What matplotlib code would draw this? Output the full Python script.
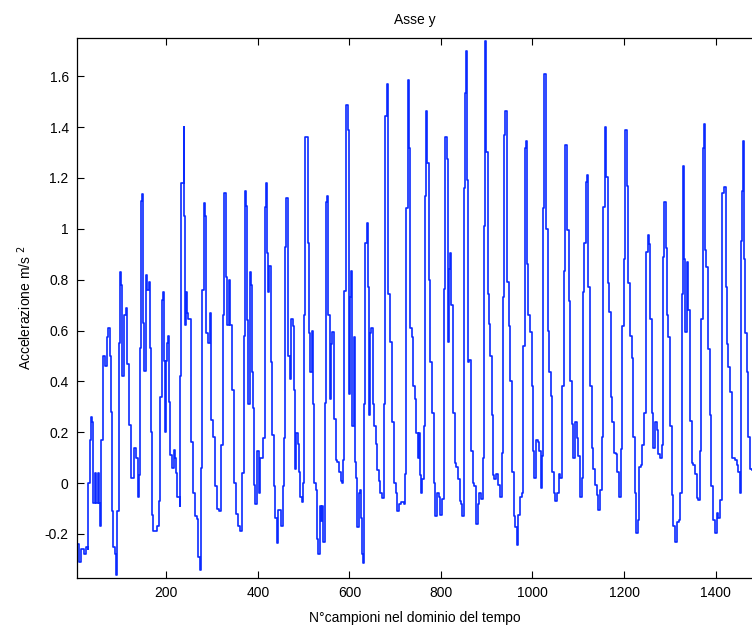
import matplotlib
matplotlib.use('Agg')
import matplotlib.pyplot as plt

# vertici (campione, accelerazione m/s^2)
campioni = [
  4, 10, 14, 20, 25, 29, 30, 33, 36, 38, 40, 44, 47, 51, 53, 55, 58, 62, 66, 71,
  73, 76, 79, 81, 84, 87, 91, 93, 96, 100, 102, 104, 108, 111, 114, 119, 122, 124, 129, 133,
  138, 140, 142, 144, 148, 149, 151, 155, 158, 162, 164, 167, 169, 172, 180, 184, 187, 191, 193, 195,
  198, 200, 202, 204, 206, 209, 212, 217, 220, 222, 224, 229, 231, 233, 238, 239, 241, 244, 246, 247,
  255, 258, 262, 267, 269, 273, 276, 279, 282, 285, 287, 291, 295, 298, 302, 307, 311, 316, 320, 324,
  327, 331, 333, 337, 340, 344, 349, 353, 356, 360, 365, 369, 371, 375, 377, 378, 382, 385, 388, 389,
  391, 393, 398, 402, 405, 411, 415, 417, 420, 422, 424, 428, 431, 435, 438, 441, 445, 451, 455,
  457, 459, 462, 465, 467, 470, 473, 476, 478, 482, 484, 487, 490, 493, 496, 499, 501, 504, 507, 509,
  512, 514, 518, 520, 523, 527, 529, 532, 535, 538, 540, 543, 546, 549, 552, 554, 558, 560, 563, 567,
  570, 574, 578, 581, 584, 587, 589, 593, 596, 599, 601, 604, 606, 609, 612, 614, 617, 620, 623, 625,
  628, 630, 633, 635, 638, 640, 643, 645, 648, 651, 654, 658, 661, 664, 667, 671, 675, 678, 682, 684,
  688, 693, 698, 701, 704, 708, 712, 715, 719, 722, 724, 728, 730, 733, 736, 739, 743, 746, 749, 751,
  754, 757, 759, 762, 765, 768, 770, 773, 777, 780, 785, 788, 792, 796, 799, 803, 806, 809, 813, 815,
  817, 820, 822, 826, 830, 833, 837, 841, 844, 847, 850, 852, 854, 857, 859, 862, 866, 870, 873, 877,
  880, 884, 888, 891, 894, 896, 899, 902, 904, 907, 911, 913, 917, 920, 924, 928,
  933, 935, 938, 941, 944, 948, 951, 955, 959, 962, 966, 969, 973, 977, 980, 983, 986, 988, 991, 995,
  999, 1001, 1004, 1007, 1011, 1015, 1018, 1021, 1024, 1026, 1029, 1033, 1036, 1040, 1043, 1046, 1050, 1053, 1057, 1060,
  1065, 1068, 1071, 1075, 1079, 1082, 1086, 1089, 1093, 1097, 1100, 1104, 1108, 1110, 1113, 1116, 1120, 1122, 1126, 1129,
  1133, 1137, 1140, 1144, 1148, 1151, 1155, 1159, 1161, 1164, 1167, 1171, 1174, 1178, 1182, 1185, 1189, 1193, 1196, 1200,
  1203, 1206, 1209, 1213, 1217, 1220, 1224, 1226, 1230, 1233, 1236, 1240, 1244, 1247, 1249, 1252, 1254, 1257, 1260, 1264,
  1268, 1271, 1275, 1279, 1282, 1286, 1288, 1291, 1293, 1297, 1300, 1304, 1308, 1311, 1315, 1319, 1322, 1326, 1327, 1329,
  1332, 1334, 1337, 1340, 1344, 1348, 1351, 1355, 1359, 1362, 1366, 1369, 1372, 1375, 1376, 1380, 1384, 1388, 1391, 1395,
  1399, 1402, 1406, 1409, 1413, 1415, 1419, 1422, 1425, 1428, 1431, 1435, 1439, 1442, 1446, 1449, 1453, 1456, 1458, 1460,
  1463, 1465, 1468, 1471, 1475, 1479]

acc = [
  -0.24, -0.31, -0.26, -0.28, -0.25, -0.26, 0.0, 0.17, 0.26, 0.24, -0.08, 0.04, -0.08, 0.04, -0.08, -0.17, 0.17, 0.50, 0.46, 0.575,
  0.61, 0.50, 0.28, -0.11, -0.25, -0.28, -0.36, -0.11, 0.55, 0.83, 0.78, 0.42, 0.66, 0.69, 0.47, 0.23, 0.08, 0.02, 0.14, 0.10,
  -0.055, 0.03, 0.53, 1.11, 1.135, 0.63, 0.44, 0.82, 0.76, 0.79, 0.53, 0.20, -0.125, -0.19, -0.17, -0.07, 0.34, 0.72, 0.75, 0.48,
  0.20, 0.48, 0.55, 0.58, 0.32, 0.11, 0.06, 0.13, 0.10, 0.04, -0.055, -0.09, 0.42, 1.18, 1.40, 1.05, 0.62, 0.75, 0.67, 0.645,
  0.16, -0.04, -0.13, -0.14, -0.29, -0.34, 0.06, 0.76, 1.10, 1.05, 0.59, 0.55, 0.67, 0.25, 0.18, -0.01, -0.10, -0.11, 0.15, 0.66,
  1.14, 0.81, 0.62, 0.80, 0.62, 0.365, 0.0, -0.12, -0.17, -0.19, 0.04, 0.58, 1.15, 1.09, 0.64, 0.31, 0.83, 0.78, 0.435, 0.295,
  -0.006, -0.083, 0.127, -0.04, 0.10, 0.176, 1.086, 1.18, 0.905, 0.75, 0.855, 0.477, 0.19, -0.013, -0.139, -0.237, -0.104, -0.167, -0.013,
  0.176, 0.93, 1.12, 1.12, 0.50, 0.41, 0.645, 0.617, 0.365, 0.057, 0.197, 0.155, 0.043, -0.055, -0.076, 0.0, 0.66, 1.36, 1.36, 0.946,
  0.59, 0.435, 0.60, 0.31, 0.0, -0.027, -0.22, -0.28, -0.09, -0.15, -0.09, -0.23, 0.316, 1.107, 1.128, 0.66, 0.33, 0.547, 0.596, 0.253,
  0.092, 0.085, 0.043, 0.008, 0.0, 0.092, 0.757, 1.485, 1.387, 0.35, 0.73, 0.834, 0.225, 0.575, 0.085, 0.022, -0.174, -0.04, -0.027, -0.139,
  -0.28, -0.314, 0.31, 0.946, 1.023, 0.77, 0.267, 0.59, 0.61, 0.31, 0.225, 0.155, 0.05, 0.008, -0.04, -0.06, 0.31, 1.443, 1.57, 0.743,
  0.555, 0.24, 0.0, -0.04, -0.11, -0.083, -0.076, -0.076, -0.083, 0.036, 1.08, 1.583, 1.317, 0.61, 0.575, 0.38, 0.33, 0.197, 0.10, 0.197,
  0.03, -0.04, 0.015, 0.225, 1.128, 1.464, 1.26, 0.80, 0.477, 0.274, 0.0, -0.13, -0.04, -0.055, -0.125, -0.062, 0.764, 1.36, 1.275, 0.555,
  0.84, 0.905, 0.70, 0.274, 0.078, 0.064, 0.015, -0.07, -0.083, -0.13, 1.16, 1.534, 1.70, 1.19, 0.477, 0.484, 0.127, 0.0, -0.013, -0.16,
  -0.083, -0.04, -0.062, 0.10, 1.01, 1.74, 1.30, 0.743, 0.625, 0.50, 0.267, 0.03, 0.015, 0.036, -0.006, -0.055,
  0.12, 0.73, 1.37, 1.464, 0.79, 0.617, 0.40, 0.043, -0.13, -0.174, -0.244, -0.125, -0.055, -0.04, 0.54, 1.317, 1.345, 0.86, 0.66, 0.596,
  0.38, 0.127, 0.022, 0.17, 0.163, 0.127, -0.02, 0.106, 1.08, 1.61, 1.0, 0.60, 0.435, 0.344, 0.043, -0.04, -0.07, -0.04, 0.036, 0.022,
  0.38, 0.834, 1.33, 0.995, 0.715, 0.40, 0.232, 0.10, 0.24, 0.176, 0.106, -0.055, 0.022, 0.75, 0.946, 1.185, 1.21, 0.77, 0.38, 0.14,
  0.057, -0.006, -0.048, -0.104, -0.027, 0.183, 1.086, 1.40, 1.205, 0.786, 0.673, 0.337, 0.24, 0.12, 0.113, 0.043, -0.055, 0.134, 0.617, 0.883,
  1.387, 1.17, 0.786, 0.58, 0.49, 0.183, -0.04, -0.195, -0.146, 0.064, 0.071, 0.148, 0.274, 0.778, 0.91, 0.975, 0.94, 0.645, 0.274, 0.14,
  0.24, 0.21, 0.113, 0.10, 0.148, 0.89, 1.107, 0.925, 0.66, 0.575, 0.225, -0.048, -0.167, -0.23, -0.153, -0.146, -0.04, 0.17, 0.743, 1.247,
  0.883, 0.596, 0.87, 0.68, 0.246, 0.078, 0.071, 0.036, -0.06, -0.068, 0.127, 0.645, 1.317, 1.41, 0.918, 0.848, 0.526, 0.267, -0.013, -0.146,
  -0.195, -0.118, -0.139, -0.068, 0.463, 1.142, 1.163, 0.77, 0.547, 0.456, 0.358, 0.10, 0.10, 0.092, 0.071, 0.043, -0.04, 0.953, 1.15, 1.345,
  0.883, 0.59, 0.435, 0.183, 0.057, 0.05]

xticks = [200, 400, 600, 800, 1000, 1200, 1400]
yticks = [-0.2, 0, 0.2, 0.4, 0.6, 0.8, 1.0, 1.2, 1.4, 1.6]
ytick_labels = ['-0.2', '0', '0.2', '0.4', '0.6', '0.8', '1', '1.2', '1.4', '1.6']

plt.rcParams['font.family'] = ['Liberation Sans', 'DejaVu Sans']

fig = plt.figure(figsize=(7.52, 6.25), dpi=100)
ax = fig.add_axes([77/752, 47/625, 675/752, 540/625])

# a gradini come il segnale campionato originale
ax.plot(campioni, acc, color='#0a2aff', linewidth=1.2, drawstyle='steps-post')

ax.set_xlim(5, 1479.5)
ax.set_ylim(-0.373, 1.75)
ax.set_xticks(xticks)
ax.set_yticks(yticks)
ax.set_yticklabels(ytick_labels)
ax.tick_params(direction='in', length=5, width=0.8, labelsize=10, top=True, right=False, pad=6)
ax.spines['right'].set_visible(False)
for s in ['left', 'top', 'bottom']:
  ax.spines[s].set_linewidth(0.9)

ax.set_title('Asse y', fontsize=10, pad=10)
ax.set_xlabel('N°campioni nel dominio del tempo', fontsize=10, labelpad=8)
ax.set_ylabel('Accelerazione m/s $^2$', fontsize=10, labelpad=8)

fig.savefig('out.png', dpi=100)
